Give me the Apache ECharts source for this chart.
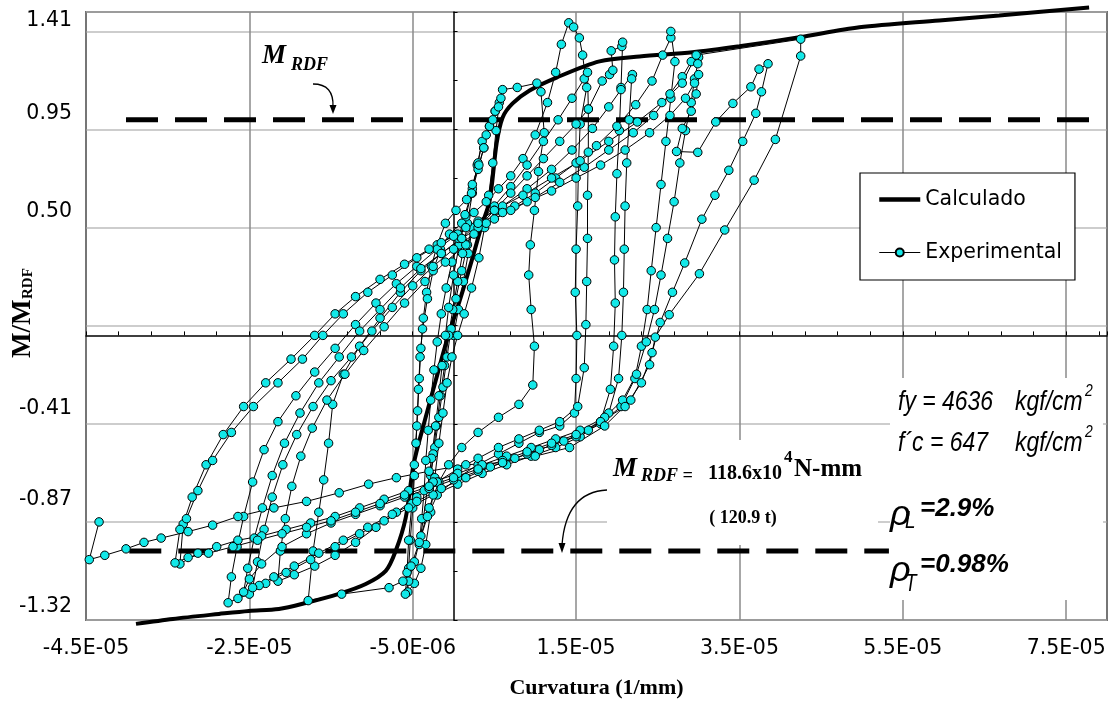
<!DOCTYPE html>
<html><head><meta charset="utf-8">
<script src="https://cdn.jsdelivr.net/npm/echarts@6/dist/echarts.min.js"></script>
<style>html,body{margin:0;padding:0;background:#fff}#c{width:1111px;height:706px}</style>
</head><body><div id="c"></div>
<script>
// curvature values are written in units of 1e-6 1/mm
const CURV_UNIT = 1e-6;
const xTickLabels = ['-4.5E-05','-2.5E-05','-5.0E-06','1.5E-05','3.5E-05','5.5E-05','7.5E-05'];
const yTickLabels = ['-1.32','-0.87','-0.41','','0.50','0.95','1.41'];

const calculado = [
[-38.88,-1.338],[-34.36,-1.315],[-28.73,-1.292],[-25.06,-1.278],[-21.39,-1.269],[-18.09,-1.241],
[-14.05,-1.199],[-10.75,-1.153],[-8.30,-1.092],[-7.08,-0.999],[-5.86,-0.846],[-4.88,-0.596],
[-3.53,-0.396],[-2.19,-0.210],[-0.84,-0.025],[0.75,0.161],[2.22,0.347],[3.44,0.509],[4.42,0.625],
[5.27,0.890],[6.01,1.011],[7.23,1.076],[9.31,1.136],[12.61,1.196],[17.87,1.271],[22.77,1.294],
[29.25,1.313],[35.0,1.341],[42.34,1.383],[49.68,1.429],[59.46,1.461],[66.80,1.484],[77.81,1.521]
];

const experimental = [
[0,0],[0.6,0.12],[1.2,0.25],[1.8,0.38],[2.3,0.5],
[1.7,0.42],[1.0,0.3],[0.3,0.17],[-0.3,0.03],[-0.8,-0.1],[-1.3,-0.24],[-1.8,-0.38],[-2.3,-0.52],[-2.8,-0.65],
[-2.5,-0.55],[-2.1,-0.42],[-1.6,-0.28],[-1.1,-0.14],[-0.6,0],
[-0.1,0.12],[0.5,0.25],[1.1,0.38],[1.7,0.52],[2.3,0.66],[2.9,0.79],[3.5,0.9],
[3.0,0.8],[2.3,0.68],[1.5,0.55],[0.7,0.42],[0,0.28],[-0.6,0.13],[-1.0,0],[-1.4,-0.14],[-1.8,-0.28],[-2.2,-0.42],[-2.7,-0.57],[-3.2,-0.71],[-3.7,-0.85],[-4.2,-0.97],
[-3.9,-0.85],[-3.6,-0.72],[-3.4,-0.58],[-3.1,-0.44],[-2.8,-0.3],[-2.4,-0.16],[-2.0,-0.03],
[-1.5,0.1],[-0.9,0.22],[-0.2,0.34],[0.6,0.45],[1.4,0.56],[2.2,0.66],[3.0,0.77],[3.7,0.87],[4.4,0.97],[5.1,1.04],[5.6,1.08],
[5.2,0.95],[4.8,0.8],[4.3,0.65],[3.8,0.5],[3.1,0.36],[2.2,0.22],[1.3,0.1],[0.5,0],[-0.2,-0.1],[-0.8,-0.22],[-1.3,-0.36],[-1.8,-0.5],[-2.3,-0.66],[-2.8,-0.82],[-3.4,-0.97],[-4.0,-1.08],[-4.8,-1.15],[-5.6,-1.19],
[-5.5,-1.08],[-5.3,-0.95],[-5.0,-0.8],[-4.8,-0.65],[-4.6,-0.5],[-4.4,-0.35],[-4.2,-0.2],[-4.0,-0.06],[-3.7,0.08],[-3.3,0.2],[-2.7,0.32],[-2.0,0.42],
[-1.0,0.52],[0.3,0.58],[1.6,0.63],[2.3,0.7],[3.1,0.79],[3.7,0.87],[4.0,0.93],[4.4,0.97],[4.8,1.0],[5.1,1.04],[5.5,1.06],[5.8,1.10],[6.0,1.14],[7.8,1.15],[10.2,1.17],[10.7,1.13],
[11.1,0.94],[10.4,0.76],[9.9,0.58],[9.4,0.42],[9.2,0.28],[9.5,0.12],[9.9,-0.05],[9.7,-0.23],[8.0,-0.32],[5.5,-0.38],[3.0,-0.45],[1.0,-0.52],[-0.6,-0.6],[-1.8,-0.68],[-3.0,-0.8],[-4.0,-0.93],[-4.8,-1.05],[-5.5,-1.14],[-5.9,-1.2],
[-5.7,-1.1],[-5.5,-0.95],[-5.1,-0.78],[-4.8,-0.6],[-4.5,-0.42],[-4.3,-0.25],[-4.1,-0.1],[-3.8,0.03],[-3.2,0.17],[-2.5,0.3],[-1.6,0.4],[-0.5,0.47],
[1.0,0.52],[2.5,0.57],[4.0,0.62],[5.5,0.68],[7.0,0.74],[8.5,0.82],[10,0.93],[11.5,1.08],[12.5,1.22],[13.2,1.35],[14.1,1.45],[14.7,1.43],[15.4,1.38],[15.8,1.30],[16.3,1.15],[15.5,0.98],
[15.3,0.8],[15.2,0.6],[15.0,0.4],[14.9,0.2],[15.1,0.0],[15.0,-0.2],[14.8,-0.36],[13.0,-0.42],[10.5,-0.45],[8.0,-0.5],[5.5,-0.55],[3.0,-0.6],[0.5,-0.66],[-2.0,-0.74],[-3.2,-0.84],[-4.2,-0.96],[-5.2,-1.07],[-6.2,-1.14],[-7.9,-1.17],[-13.7,-1.2],[-17.8,-1.23],
[-17.2,-1.0],[-16.5,-0.82],[-15.9,-0.67],[-15.3,-0.5],[-14.8,-0.32],[-13.5,-0.18],[-11.5,-0.05],[-9,0.08],[-6.5,0.2],[-4,0.3],[-1.5,0.38],[1,0.45],
[3,0.52],[5,0.6],[7,0.69],[9,0.79],[11,0.9],[12.8,1.0],[14.5,1.1],[16,1.19],[16.4,1.22],[16.5,1.05],[16.5,0.85],[16.4,0.65],[16.4,0.45],[16.3,0.25],[16.2,0.05],[16.0,-0.15],[15.2,-0.33],[13,-0.4],[10.5,-0.44],[8,-0.48],[5.5,-0.52],[3,-0.57],[0.5,-0.62],[-2,-0.68],[-4.5,-0.75],[-7,-0.82],[-9.5,-0.89],[-12,-0.96],[-14.5,-1.02],[-17,-1.07],[-19.5,-1.11],[-21.5,-1.14],
[-21.2,-1.0],[-20.6,-0.85],[-19.8,-0.7],[-18.7,-0.56],[-17.3,-0.43],[-15.5,-0.3],[-13.3,-0.18],[-11,-0.07],[-8.5,0.04],[-6,0.15],[-3.5,0.25],[-1,0.34],[1.5,0.42],
[3,0.5],[5,0.58],[7,0.66],[9,0.74],[11,0.82],[13,0.9],[15,0.98],[16.5,1.05],[18.2,1.18],[19.1,1.21],[19.5,1.23],[19.3,1.32],[20.6,1.34],[20.7,1.36],
[20.5,1.15],[20.3,0.95],[20.0,0.75],[19.8,0.55],[19.7,0.35],[19.8,0.15],[19.6,-0.05],[19.2,-0.25],[18.0,-0.4],[15.5,-0.47],[12.5,-0.52],[9.5,-0.56],[6.5,-0.6],[3.5,-0.64],[0.5,-0.69],[-2.5,-0.74],[-5.5,-0.8],[-8.5,-0.86],[-11.5,-0.92],[-14.5,-0.98],[-17.5,-1.04],[-20.5,-1.1],[-23,-1.15],[-25,-1.2],[-26.4,-1.22],[-27.6,-1.24],
[-27.2,-1.12],[-26.5,-0.98],[-25.7,-0.84],[-24.6,-0.68],[-23.2,-0.53],[-21.5,-0.4],[-19.3,-0.28],[-17,-0.17],[-14.5,-0.06],[-12,0.05],[-9.5,0.15],[-7,0.24],[-4.5,0.32],[-2,0.4],[0.5,0.47],
[3,0.53],[6,0.6],[9,0.68],[12,0.77],[14.5,0.86],[17,0.96],[19,1.06],[20.5,1.14],[21.9,1.21],[21.8,1.19],[21.5,1.0],[21.2,0.8],[21.0,0.6],[20.9,0.4],[20.8,0.2],[20.6,0.0],[20.2,-0.2],[19.0,-0.36],[16.5,-0.44],[13.5,-0.49],[10.5,-0.53],[7.5,-0.57],[4.5,-0.61],[1.5,-0.66],[-1.5,-0.71],[-4.5,-0.77],[-7.5,-0.83],[-10.5,-0.89],[-13.5,-0.95],[-16.5,-1.01],[-19.5,-1.07],[-22,-1.12],[-23.8,-1.16],[-24.6,-1.17],
[-24.0,-1.05],[-23.2,-0.9],[-22.2,-0.75],[-20.9,-0.6],[-19.2,-0.46],[-17.2,-0.33],[-15,-0.21],[-12.5,-0.1],[-10,0.02],[-7.5,0.13],[-5,0.23],[-2.5,0.32],[0,0.4],
[2.5,0.47],[5,0.54],[7.5,0.6],[10,0.66],[12.5,0.73],[15,0.8],[17.5,0.88],[20,0.97],[22.3,1.07],[24.3,1.18],[25.6,1.3],[26.6,1.38],[26.6,1.41],
[27.1,1.27],[26.6,1.1],[26.0,0.9],[25.4,0.7],[24.8,0.5],[24.2,0.3],[23.7,0.12],[23.0,-0.05],[22.2,-0.2],[20.5,-0.33],[18,-0.41],[15,-0.47],[12,-0.51],[9,-0.55],[6,-0.59],[3,-0.63],[0,-0.67],[-3,-0.71],[-6,-0.75],[-9,-0.79],[-12,-0.83],[-15,-0.87],[-18,-0.92],[-21,-0.98],[-23.5,-1.06],[-25,-1.13],[-25.7,-1.19],
[-25.2,-1.08],[-24.4,-0.94],[-23.4,-0.8],[-22.2,-0.65],[-20.7,-0.5],[-18.8,-0.36],[-16.5,-0.22],[-14,-0.1],[-11.5,0.02],[-9,0.12],[-6.5,0.22],[-4,0.31],[-1.5,0.38],[1,0.45],
[4,0.52],[7,0.58],[10,0.64],[13,0.71],[16,0.78],[19,0.86],[22,0.94],[24.5,1.02],[26.5,1.12],[28,1.2],[29.1,1.27],[29.9,1.30],[30.0,1.29],
[29.9,1.26],[29.5,1.19],[29.1,1.08],[28.4,0.95],[27.7,0.8],[27.0,0.62],[26.2,0.45],[25.4,0.28],[24.6,0.12],[23.6,-0.03],[22.4,-0.18],[20.7,-0.3],[18.5,-0.38],[15.5,-0.44],[12.5,-0.48],[9.5,-0.52],[6.5,-0.56],[3.5,-0.6],[0.5,-0.64],[-2.5,-0.68],[-5.5,-0.72],[-8.5,-0.76],[-11.5,-0.8],[-14.5,-0.84],[-17.5,-0.87],[-20.5,-0.9],[-23.5,-0.93],[-26.4,-0.95],[-29,-0.98],[-31.3,-1.01],[-33.5,-1.06],
[-33.1,-0.875],[-32.0,-0.75],[-30.3,-0.6],[-28.2,-0.46],[-25.7,-0.33],[-23,-0.22],[-19.9,-0.11],[-17,0.0],[-14.5,0.1],[-12,0.18],[-9,0.26],[-6,0.33],[-3,0.4],[0,0.46],
[3,0.52],[6,0.57],[9,0.62],[12,0.67],[15,0.73],[18,0.79],[21,0.86],[24,0.94],[26.5,1.02],[28.4,1.1],[29.5,1.17],[30.0,1.21],
[29.7,1.12],[29.1,1.04],[28.0,0.96],[27.3,0.853],[29.9,0.849],[32.1,0.99],[34.2,1.076],[36.4,1.153],[37.4,1.235],[38.5,1.26],
[37.7,1.13],[37.0,1.03],[35.4,0.9],[33.7,0.766],[32.0,0.65],[30.4,0.539],[28.3,0.336],[26.8,0.2],[25.3,0.06],[24.3,-0.08],[23.0,-0.22],[21,-0.33],[18,-0.4],[15,-0.46],[12,-0.5],[9,-0.54],[6,-0.58],[3,-0.62],[0,-0.66],[-3,-0.7],[-6,-0.74],[-9,-0.78],[-12,-0.82],[-15,-0.86],[-18,-0.89],[-21,-0.92],[-24,-0.95],[-27,-0.98],[-30,-1.01],[-32.5,-1.03],[-34.1,-1.055],
[-33.5,-0.9],[-32.7,-0.85],[-31.3,-0.72],[-29.5,-0.58],[-27.2,-0.45],[-24.5,-0.33],[-21.5,-0.22],[-18.5,-0.11],[-16,0.0],[-13.5,0.1],[-10.5,0.2],[-7.5,0.28],[-4.5,0.36],[-1.5,0.43],[1.5,0.5],
[5,0.58],[8.5,0.65],[12,0.73],[15.5,0.81],[19,0.9],[22.5,0.99],[25.5,1.08],[28,1.17],[29.7,1.3],[42.5,1.374],[42.5,1.296],[39.4,0.909],[36.8,0.72],[33.2,0.489],[30.1,0.286],[26.4,0.096],[24.7,-0.008],[24.0,-0.136],[21.7,-0.30],[18.5,-0.42],[14.2,-0.52],[10,-0.56],[6,-0.59],[1.5,-0.6],[-3,-0.63],[-7,-0.66],[-10.4,-0.69],[-14,-0.73],[-18,-0.77],[-22,-0.8],[-26.4,-0.84],[-29.5,-0.88],[-32.5,-0.91],[-35.8,-0.94],[-37.9,-0.96],[-40.1,-0.99],[-42.7,-1.02],[-44.6,-1.04],[-43.4,-0.865]
];

const mrdfUpper = [[-40.1,1],[79.0,1]];
const mrdfLower = [[-39.7,-1],[53.3,-1]];

const toData = arr => arr.map(p => [p[0]*CURV_UNIT, p[1]]);

const XMIN = -45e-6, XMAX = 80e-6, XINT = 20e-6;
const YMIN = -1.32, YMAX = 1.5, YINT = 0.455;

// how far each y tick label sits above its gridline in the original (styling only)
const yLabelLift = [3, 12, 5, 5, 5, 5, 0.5];
const yLabelFont = {fontFamily:'DejaVu Sans', fontSize:20.5, color:'#000'};
const yRich = {};
yLabelLift.forEach((p, i) => { yRich['l' + i] = Object.assign({padding:[0,0,p,0]}, yLabelFont); });

const chart = echarts.init(document.getElementById('c'), null, {renderer:'canvas'});
const serifB = {fontFamily:'Liberation Serif', fontWeight:'bold'};
const txt = (text, x, y, st) => ({type:'text', z:50, style:Object.assign({text, x, y, fill:'#000', align:'left', verticalAlign:'middle'}, st)});
const narrow = (text, x, y, size, extra) => ({type:'text', z:50, x, y, scaleX:0.82,
  style:Object.assign({text, x:0, y:0, fill:'#000', align:'left', verticalAlign:'middle', fontFamily:'Liberation Sans', fontStyle:'italic', fontSize:size}, extra||{})});

chart.setOption({
  animation:false,
  backgroundColor:'#fff',
  grid:{left:86, top:12, right:4, bottom:86, show:true, borderColor:'#000', borderWidth:1.5, backgroundColor:'transparent'},
  legend:{
    data:[
      {name:'Calculado', itemStyle:{opacity:0}, lineStyle:{width:4.5, color:'#000'}},
      {name:'Experimental', lineStyle:{width:1.2, color:'#000'}}
    ],
    orient:'vertical', left:860, top:173,
    padding:[16,13,17,17], itemGap:32, itemWidth:41, itemHeight:10,
    backgroundColor:'#fff', borderColor:'#000', borderWidth:1.2, borderRadius:0,
    textStyle:{fontFamily:'DejaVu Sans', fontSize:20.5, color:'#000'}
  },
  xAxis:[{
    type:'value', min:XMIN, max:XMAX, interval:XINT, position:'bottom',
    axisLine:{show:false, onZero:false}, axisTick:{show:false},
    splitLine:{show:true, lineStyle:{color:'#8a8a8a', width:1.5}},
    axisLabel:{showMaxLabel:false, margin:18, fontFamily:'DejaVu Sans', fontSize:20.5, color:'#000',
      formatter:(v,i)=> xTickLabels[i] ?? ''},
    name:'Curvatura (1/mm)', nameLocation:'middle', nameGap:57,
    nameTextStyle:{fontFamily:'Liberation Serif', fontWeight:'bold', fontSize:22, color:'#000'}
  },{
    type:'value', min:XMIN, max:XMAX, interval:4e-6, position:'top',
    axisLine:{show:true, onZero:true, lineStyle:{color:'#000', width:1.5}},
    axisTick:{show:true, inside:false, length:4, lineStyle:{color:'#000', width:1}},
    axisLabel:{show:false}, splitLine:{show:false}
  }],
  yAxis:[{
    type:'value', min:YMIN, max:YMAX, interval:YINT, position:'left',
    axisLine:{show:false, onZero:false}, axisTick:{show:false},
    splitLine:{show:true, lineStyle:{color:'#bdbdbd', width:1.5}},
    axisLabel:{showMaxLabel:false, margin:14, fontFamily:'DejaVu Sans', fontSize:20.5, color:'#000',
      verticalAlign:'bottom', rich:yRich,
      formatter:(v,i)=> yTickLabels[i] ? '{l' + i + '|' + yTickLabels[i] + '}' : ''}
  },{
    type:'value', min:YMIN, max:YMAX, interval:YINT/2, position:'right',
    axisLine:{show:true, onZero:true, lineStyle:{color:'#000', width:1.5}},
    axisTick:{show:true, inside:false, length:4, lineStyle:{color:'#000', width:1}},
    axisLabel:{show:false}, splitLine:{show:false}
  }],
  series:[
    {name:'Calculado', type:'line', data:toData(calculado), showSymbol:false, symbol:'none', smooth:0.3, clip:false,
     lineStyle:{color:'#000', width:4}, itemStyle:{color:'#000'}, z:3},
    {name:'Mrdf+', type:'line', data:toData(mrdfUpper), symbol:'none', lineStyle:{color:'#000', width:5, type:[32,17]}, z:2},
    {name:'Mrdf-', type:'line', data:toData(mrdfLower), symbol:'none', lineStyle:{color:'#000', width:5, type:[32,17]}, z:2},
    {name:'Experimental', type:'line', data:toData(experimental), symbol:'circle', symbolSize:8.5, showAllSymbol:true,
     lineStyle:{color:'#000', width:1}, itemStyle:{color:'#13e8e8', borderColor:'#000', borderWidth:1}, z:4}
  ],
  graphic:[
    {type:'rect', z:1, shape:{x:607, y:440, width:271, height:105}, style:{fill:'#fff'}},
    {type:'rect', z:1, shape:{x:890, y:378, width:213, height:222}, style:{fill:'#fff'}},
    // y axis title
    {type:'group', x:32, y:358, rotation:Math.PI/2, z:50, children:[
      {type:'text', style:{text:'M/M', x:0, y:-9, fontFamily:'Liberation Serif', fontWeight:'bold', fontSize:27, fill:'#000', align:'left', verticalAlign:'middle'}},
      {type:'text', style:{text:'RDF', x:59, y:-4, fontFamily:'Liberation Serif', fontWeight:'bold', fontSize:15, fill:'#000', align:'left', verticalAlign:'middle'}}
    ]},
    // upper M_RDF label
    txt('M', 262, 56, Object.assign({fontSize:27, fontStyle:'italic'}, serifB)),
    txt('RDF', 291, 65, Object.assign({fontSize:18, fontStyle:'italic'}, serifB)),
    {type:'bezierCurve', z:50, shape:{x1:313, y1:84, cpx1:334, cpy1:84, x2:333, y2:107}, style:{stroke:'#000', lineWidth:1.3, fill:null}},
    {type:'polygon', z:50, shape:{points:[[333,114],[329.5,105],[336.5,105]]}, style:{fill:'#000'}},
    // lower M_RDF label
    txt('M', 613, 469, Object.assign({fontSize:27, fontStyle:'italic'}, serifB)),
    txt('RDF =', 641, 476, Object.assign({fontSize:18, fontStyle:'italic'}, serifB)),
    txt('118.6x10', 708, 474, Object.assign({fontSize:20}, serifB)),
    txt('4', 784, 458, Object.assign({fontSize:17}, serifB)),
    txt('N-mm', 794, 470, Object.assign({fontSize:25}, serifB)),
    txt('( 120.9 t)', 743, 518, Object.assign({fontSize:18, align:'center'}, serifB)),
    {type:'bezierCurve', z:50, shape:{x1:607, y1:490, cpx1:566, cpy1:492, x2:562, y2:545}, style:{stroke:'#000', lineWidth:1.3, fill:null}},
    {type:'polygon', z:50, shape:{points:[[562,553],[558.5,543],[565.5,543]]}, style:{fill:'#000'}},
    // material data
    narrow('fy = 4636', 898, 402, 28),
    narrow('kgf/cm', 1015, 402, 28),
    narrow('2', 1085, 391, 17),
    narrow('f´c = 647', 898, 443, 28),
    narrow('kgf/cm', 1015, 443, 28),
    narrow('2', 1085, 432, 17),
    txt('ρ', 890, 515, {fontFamily:'Liberation Sans', fontStyle:'italic', fontSize:36}),
    narrow('L', 905, 522, 23),
    txt('=2.9%', 920, 509, {fontFamily:'Liberation Sans', fontStyle:'italic', fontWeight:'bold', fontSize:26}),
    txt('ρ', 890, 571, {fontFamily:'Liberation Sans', fontStyle:'italic', fontSize:36}),
    narrow('T', 905, 585, 23),
    txt('=0.98%', 920, 565, {fontFamily:'Liberation Sans', fontStyle:'italic', fontWeight:'bold', fontSize:26})
  ]
});
</script></body></html>
